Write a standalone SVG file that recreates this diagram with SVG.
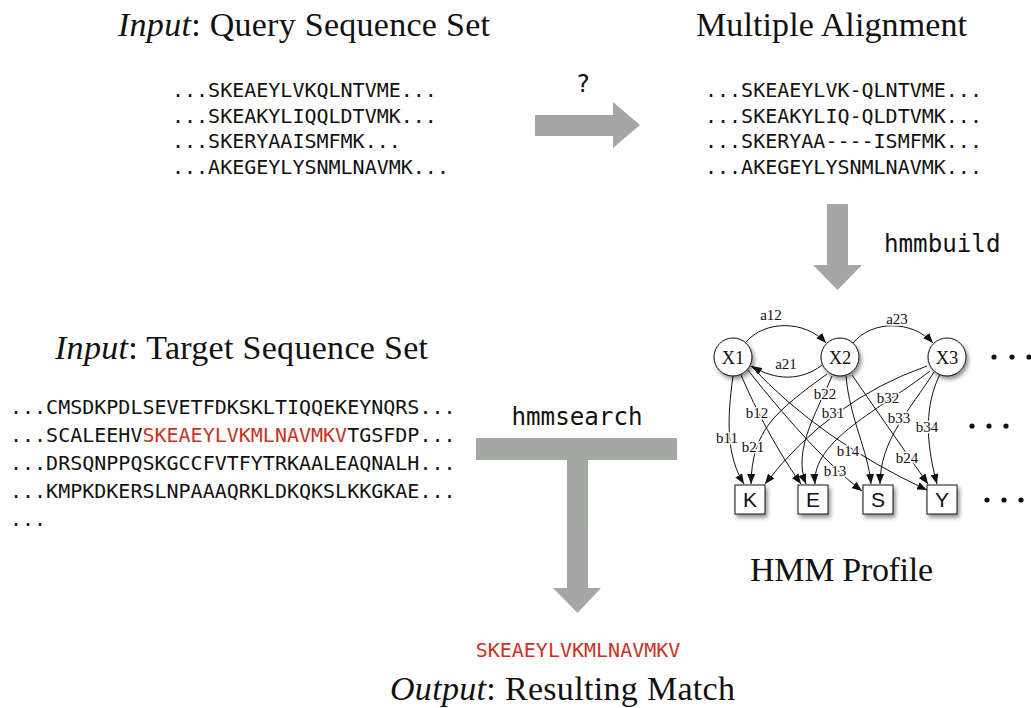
<svg xmlns="http://www.w3.org/2000/svg" width="1031" height="708" viewBox="0 0 1031 708">
<defs>
<style>
.title{font-family:"Liberation Serif",serif;font-size:34px;fill:#111}
.it{font-style:italic}
.seq{font-family:"DejaVu Sans Mono",monospace;font-size:20px;fill:#111}
.cmd{font-family:"DejaVu Sans Mono",monospace;font-size:24.2px;fill:#111}
.red{fill:#c9321f}
.blk{fill:#a6a6a6}
.edge{fill:none;stroke:#111;stroke-width:1;marker-end:url(#ah)}
.lbl{font-family:"Liberation Serif",serif;font-size:15px;fill:#111;text-anchor:middle;stroke:#fff;stroke-width:3px;paint-order:stroke;stroke-linejoin:round}
.state{fill:#fff;stroke:#111;stroke-width:1}
.stxt{font-family:"Liberation Serif",serif;font-size:18.5px;fill:#111;text-anchor:middle}
.btxt{font-family:"Liberation Sans",sans-serif;font-size:21px;fill:#111;text-anchor:middle}
.dot{fill:#111}
</style>
<marker id="ah" markerWidth="10" markerHeight="8" refX="10" refY="4" orient="auto" markerUnits="userSpaceOnUse">
<path d="M0,0 L10,4 L0,8 z" fill="#111"/>
</marker>
<filter id="sh" x="-30%" y="-30%" width="170%" height="170%">
<feGaussianBlur in="SourceAlpha" stdDeviation="2"/>
<feOffset dx="2" dy="3" result="b"/>
<feComponentTransfer><feFuncA type="linear" slope="0.45"/></feComponentTransfer>
<feMerge><feMergeNode/><feMergeNode in="SourceGraphic"/></feMerge>
</filter>
</defs>
<rect width="1031" height="708" fill="#fff"/>

<g id="query-title"><text class="title" x="118" y="36" textLength="372" lengthAdjust="spacing"><tspan class="it">Input</tspan>: Query Sequence Set</text></g>
<g id="query-seqs">
<text class="seq" x="172" y="97">...SKEAEYLVKQLNTVME...</text>
<text class="seq" x="172" y="122.5">...SKEAKYLIQQLDTVMK...</text>
<text class="seq" x="172" y="148">...SKERYAAISMFMK...</text>
<text class="seq" x="172" y="173.5">...AKEGEYLYSNMLNAVMK...</text>
</g>

<g id="align-title"><text class="title" x="696" y="36" textLength="271" lengthAdjust="spacing">Multiple Alignment</text></g>
<g id="alignment">
<text class="seq" x="705" y="97">...SKEAEYLVK-QLNTVME...</text>
<text class="seq" x="705" y="122.5">...SKEAKYLIQ-QLDTVMK...</text>
<text class="seq" x="705" y="148">...SKERYAA----ISMFMK...</text>
<text class="seq" x="705" y="173.5">...AKEGEYLYSNMLNAVMK...</text>
</g>

<g id="target-title"><text class="title" x="55" y="359" textLength="373" lengthAdjust="spacing"><tspan class="it">Input</tspan>: Target Sequence Set</text></g>
<g id="target-seqs">
<text class="seq" x="10" y="414">...CMSDKPDLSEVETFDKSKLTIQQEKEYNQRS...</text>
<text class="seq" x="10" y="442">...SCALEEHV<tspan class="red">SKEAEYLVKMLNAVMKV</tspan>TGSFDP...</text>
<text class="seq" x="10" y="470">...DRSQNPPQSKGCCFVTFYTRKAALEAQNALH...</text>
<text class="seq" x="10" y="498">...KMPKDKERSLNPAAAQRKLDKQKSLKKGKAE...</text>
<text class="seq" x="10" y="526">...</text>
</g>

<g id="hmm-title"><text class="title" x="750" y="581" textLength="183" lengthAdjust="spacing">HMM Profile</text></g>

<g id="result">
<text class="seq red" x="578" y="657" text-anchor="middle">SKEAEYLVKMLNAVMKV</text>
</g>
<g id="output-title"><text class="title" x="390" y="700" textLength="345" lengthAdjust="spacing"><tspan class="it">Output</tspan>: Resulting Match</text></g>

<g id="connectors">
<g id="arrow-query">
<path class="blk" d="M535,115 L613,115 L613,102 L640,125 L613,148 L613,136 L535,136 z"/>
<text class="cmd" x="583" y="92" text-anchor="middle">?</text>
</g>
<g id="arrow-hmmbuild">
<path class="blk" d="M827,204 L848,204 L848,265 L862,265 L837.5,290 L813,265 L827,265 z"/>
<text class="cmd" x="884" y="252">hmmbuild</text>
</g>
<g id="arrow-hmmsearch">
<rect x="476" y="438" width="201" height="22" fill="#a4a8a3"/>
<rect x="567" y="460" width="21" height="68" fill="#a4a8a3"/>
<path class="blk" d="M567,528 L588,528 L588,588 L601,588 L577.5,613 L553,588 L567,588 z"/>
<text class="cmd" x="577" y="425" text-anchor="middle">hmmsearch</text>
</g>
<g id="hmm-edges">
<path class="edge" d="M746,342 C765,320 805,320 826,343"/>
<path class="edge" d="M822,365 C802,381 775,381 752,366"/>
<path class="edge" d="M853,343 C872,320 912,320 933,343"/>
<path class="edge" d="M733,376 C727,420 726,455 744,484"/>
<path class="edge" d="M741,375 C752,400 770,440 801,484"/>
<path class="edge" d="M747,369 Q815,455 862,491"/>
<path class="edge" d="M751,366 Q820,440 927,490"/>
<path class="edge" d="M827,374 C775,412 752,430 751,484"/>
<path class="edge" d="M832,376 C818,410 792,450 806,484"/>
<path class="edge" d="M846,376 C850,420 868,450 871,484"/>
<path class="edge" d="M852,375 Q890,430 928,484"/>
<path class="edge" d="M927,366 Q830,400 765,484"/>
<path class="edge" d="M930,371 C880,410 812,440 815,484"/>
<path class="edge" d="M934,372 C910,410 880,440 880,484"/>
<path class="edge" d="M940,374 C925,405 925,440 937,484"/>
<text class="lbl" x="771" y="320">a12</text>
<text class="lbl" x="786" y="369">a21</text>
<text class="lbl" x="897" y="324">a23</text>
<text class="lbl" x="825" y="399">b22</text>
<text class="lbl" x="757" y="418">b12</text>
<text class="lbl" x="833" y="418">b31</text>
<text class="lbl" x="888" y="403">b32</text>
<text class="lbl" x="899" y="423">b33</text>
<text class="lbl" x="927" y="432">b34</text>
<text class="lbl" x="727" y="443">b11</text>
<text class="lbl" x="753" y="452">b21</text>
<text class="lbl" x="848" y="456">b14</text>
<text class="lbl" x="907" y="463">b24</text>
<text class="lbl" x="835" y="476">b13</text>
</g>
</g>

<g id="X1"><circle class="state" cx="733" cy="357" r="19" filter="url(#sh)"/><text class="stxt" x="733" y="363.5">X1</text></g>
<g id="X2"><circle class="state" cx="840" cy="357" r="19" filter="url(#sh)"/><text class="stxt" x="840" y="363.5">X2</text></g>
<g id="X3"><circle class="state" cx="947" cy="357" r="19" filter="url(#sh)"/><text class="stxt" x="947" y="363.5">X3</text></g>
<g id="K"><rect class="state" x="735" y="485" width="30" height="29" filter="url(#sh)"/><text class="btxt" x="750" y="507">K</text></g>
<g id="E"><rect class="state" x="798" y="485" width="30" height="29" filter="url(#sh)"/><text class="btxt" x="813" y="507">E</text></g>
<g id="S"><rect class="state" x="863" y="485" width="30" height="29" filter="url(#sh)"/><text class="btxt" x="878" y="507">S</text></g>
<g id="Y"><rect class="state" x="927" y="485" width="30" height="29" filter="url(#sh)"/><text class="btxt" x="942" y="507">Y</text></g>
<g id="ellipses">
<circle class="dot" cx="994" cy="357" r="2.6"/><circle class="dot" cx="1012" cy="357" r="2.6"/><circle class="dot" cx="1029" cy="357" r="2.6"/>
<circle class="dot" cx="972" cy="426" r="2.6"/><circle class="dot" cx="989" cy="426" r="2.6"/><circle class="dot" cx="1006" cy="426" r="2.6"/>
<circle class="dot" cx="987" cy="500" r="2.6"/><circle class="dot" cx="1004" cy="500" r="2.6"/><circle class="dot" cx="1021" cy="500" r="2.6"/>
</g>
</svg>
